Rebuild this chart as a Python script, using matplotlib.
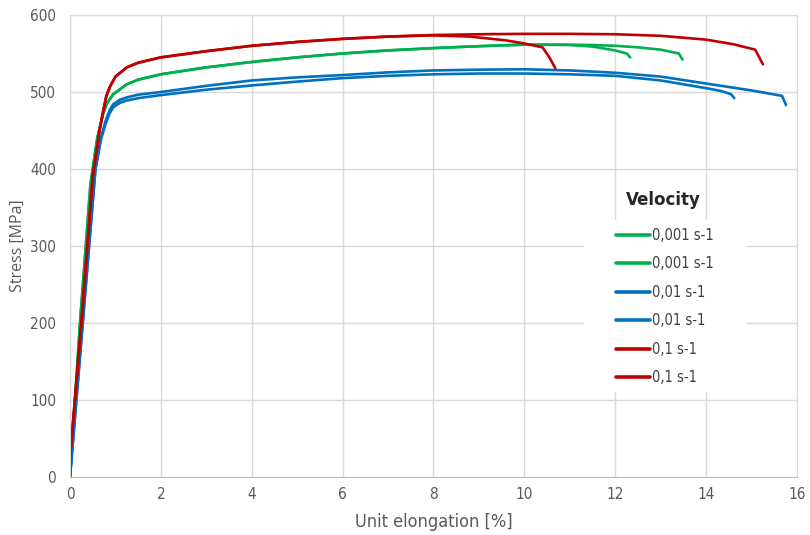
import matplotlib
matplotlib.use("Agg")
import matplotlib.pyplot as plt
from matplotlib.patches import Rectangle

# tensile curves (elongation %, stress MPa)
green1_x = [0, 0.22, 0.45, 0.6, 0.72, 0.81, 0.95, 1.25, 1.5, 2.0, 3.0, 4.0, 5.0, 6.0, 7.0, 8.0, 9.0, 10.0, 11.0, 11.5, 12.0, 12.25, 12.33]
green1_y = [0, 200, 380, 440, 470, 485, 497, 510, 516, 523, 532, 539, 545, 550, 554, 557, 559.5, 561.5, 561, 559, 554, 550, 545]
green2_x = [0, 0.22, 0.45, 0.6, 0.72, 0.81, 0.95, 1.25, 1.5, 2.0, 3.0, 4.0, 5.0, 6.0, 7.0, 8.0, 9.0, 10.0, 11.0, 11.5, 12.0, 12.5, 13.0, 13.4, 13.48]
green2_y = [0, 200, 380, 440, 470, 485, 497, 510, 516, 523, 532, 539, 545, 550, 554, 557, 559.5, 561.5, 561.5, 561, 560, 558, 555, 550, 542]

blue1_x = [0, 0.28, 0.56, 0.68, 0.78, 0.87, 0.95, 1.1, 1.25, 1.5, 2.0, 3.0, 4.0, 5.0, 6.0, 7.0, 8.0, 9.0, 10.0, 11.0, 12.0, 13.0, 14.0, 14.35, 14.55, 14.62]
blue1_y = [0, 200, 400, 438, 458, 472, 480, 486, 489, 492, 496, 503, 508.5, 513.5, 518, 521, 523, 524, 524, 523, 521, 515, 505, 501, 497, 492]
blue2_x = [0, 0.28, 0.56, 0.68, 0.78, 0.87, 0.95, 1.1, 1.25, 1.5, 2.0, 3.0, 4.0, 5.0, 6.0, 7.0, 8.0, 9.0, 10.0, 11.0, 12.0, 13.0, 14.0, 15.0, 15.67, 15.76]
blue2_y = [0, 200, 400, 440, 462, 476, 484, 490, 493, 496.5, 500, 508, 515, 519, 522, 525.5, 528, 529, 529.5, 528, 525, 520, 511, 502, 495, 483]

red1_x = [0, 0.0, 0.25, 0.5, 0.65, 0.73, 0.8, 0.88, 1.0, 1.25, 1.5, 2.0, 3.0, 4.0, 5.0, 6.0, 7.0, 8.0, 8.8, 9.6, 10.0, 10.4, 10.55, 10.68]
red1_y = [0, 25, 200, 390, 450, 475, 495, 507, 520, 532, 538, 545, 553, 560, 565, 569, 572, 573.5, 572, 567, 563, 558, 545, 531]
red2_x = [0, 0.0, 0.25, 0.5, 0.65, 0.73, 0.8, 0.88, 1.0, 1.25, 1.5, 2.0, 3.0, 4.0, 5.0, 6.0, 7.0, 8.0, 9.0, 10.0, 11.0, 12.0, 13.0, 14.0, 14.6, 15.08, 15.25]
red2_y = [0, 25, 200, 390, 450, 475, 495, 507, 520, 532, 538, 545, 553, 560, 565, 569, 572, 574, 575, 575.5, 575.5, 575, 573, 568, 562, 555, 536]

labels = ["0,001 s-1", "0,001 s-1", "0,01 s-1", "0,01 s-1", "0,1 s-1", "0,1 s-1"]
x_ticks = [0, 2, 4, 6, 8, 10, 12, 14, 16]
y_ticks = [0, 100, 200, 300, 400, 500, 600]

GREEN = "#00B050"
BLUE = "#0070C0"
RED = "#C00000"
W, H = 810, 535

fig = plt.figure(figsize=(8.1, 5.35), dpi=100)
ax = fig.add_axes([70 / W, 58 / H, 727 / W, 462 / H])

series = [
    (green1_x, green1_y, GREEN),
    (green2_x, green2_y, GREEN),
    (blue1_x, blue1_y, BLUE),
    (blue2_x, blue2_y, BLUE),
    (red1_x, red1_y, RED),
    (red2_x, red2_y, RED),
]
for (xs, ys, col), lab in zip(series, labels):
    ax.plot(xs, ys, color=col, lw=1.9, label=lab, solid_capstyle="round", solid_joinstyle="round")

ax.set_xlim(0, 16)
ax.set_ylim(0, 600)
ax.set_xticks(x_ticks)
ax.set_yticks(y_ticks)
ax.grid(True, color="#d9d9d9", lw=1)
ax.set_axisbelow(True)
for s in ax.spines.values():
    s.set_color("#d9d9d9")
ax.spines["bottom"].set_color("#bfbfbf")
ax.tick_params(length=0, labelsize=11, colors="#595959")
ax.tick_params(axis="x", pad=7)
ax.tick_params(axis="y", pad=10)
for t in ax.get_xticklabels() + ax.get_yticklabels():
    t.set_fontstretch("condensed")

ax.set_xlabel("Unit elongation [%]", fontsize=13, color="#595959",
              fontstretch="condensed", labelpad=8)
ax.set_ylabel("Stress [MPa]", fontsize=11.5, color="#595959", family="Open Sans", labelpad=3)

# white legend panel over the grid (title sits above it)
ax.add_patch(Rectangle((584 / W, 1 - 392 / H), 162 / W, 172 / H, transform=fig.transFigure,
                       facecolor="white", edgecolor="none", zorder=1.5, clip_on=False))
fig.text(626 / W, 1 - 200 / H, "Velocity", fontsize=12, fontweight="bold",
         color="#262626", va="center", ha="left")

leg = ax.legend(loc="upper left", bbox_to_anchor=(616 / W, 1 - 228 / H),
                bbox_transform=fig.transFigure, handlelength=2.35,
                handletextpad=0.15, labelspacing=0.92, borderpad=0, borderaxespad=0,
                frameon=False, prop={"size": 10.5, "stretch": "condensed"})
for t in leg.get_texts():
    t.set_color("#404040")
for h in leg.legend_handles:
    h.set_linewidth(2.6)

fig.savefig("out.png", dpi=100)
